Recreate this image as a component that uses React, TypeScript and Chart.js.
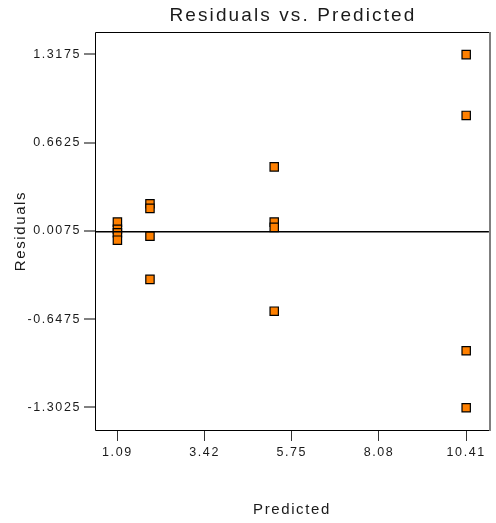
import React, { useEffect, useRef } from "react";
import { Chart, registerables } from "chart.js";

Chart.register(...registerables);

const TITLE = "Residuals vs. Predicted";
const X_TITLE = "Predicted";
const Y_TITLE = "Residuals";

const predicted = [
  1.09, 1.09, 1.09, 1.09,
  1.96, 1.96, 1.96, 1.96,
  5.28, 5.28, 5.28, 5.28,
  10.41, 10.41, 10.41, 10.41,
];
const residuals = [
  0.072, 0.018, -0.007, -0.062,
  0.208, 0.174, -0.032, -0.353,
  0.482, 0.072, 0.033, -0.589,
  1.315, 0.864, -0.883, -1.306,
];

const xTickValues = [1.09, 3.42, 5.75, 8.08, 10.41];
const xTickLabels = ["1.09", "3.42", "5.75", "8.08", "10.41"];
const yTickValues = [-1.3025, -0.6475, 0.0075, 0.6625, 1.3175];
const yTickLabels = ["-1.3025", "-0.6475", "0.0075", "0.6625", "1.3175"];

const X_MIN = 0.491;
const X_MAX = 11.017;
const Y_MIN = -1.471;
const Y_MAX = 1.483;
const ZERO_LINE_X = [X_MIN, X_MAX];
const ZERO_LINE_Y = [0, 0];

const FONT = "Arial, 'Liberation Sans', Helvetica, sans-serif";

const framePlugin = {
  id: "frameAndTitle",
  beforeDraw(chart: any) {
    const ctx = chart.ctx;
    ctx.fillStyle = "#ffffff";
    ctx.fillRect(0, 0, chart.width, chart.height);
    (ctx as any).letterSpacing = "1.6px";
  },
  afterDraw(chart: any) {
    const ctx = chart.ctx;
    const a = chart.chartArea;
    ctx.save();
    ctx.lineWidth = 1;
    ctx.strokeStyle = "#000000";
    ctx.beginPath();
    ctx.moveTo(Math.round(a.right), Math.round(a.top) + 0.5);
    ctx.lineTo(Math.round(a.left) + 0.5, Math.round(a.top) + 0.5);
    ctx.lineTo(Math.round(a.left) + 0.5, Math.round(a.bottom) + 0.5);
    ctx.lineTo(Math.round(a.right), Math.round(a.bottom) + 0.5);
    ctx.stroke();
    ctx.strokeStyle = "#7f7f7f";
    ctx.lineWidth = 2;
    ctx.beginPath();
    ctx.moveTo(Math.round(a.right) + 1, Math.round(a.top));
    ctx.lineTo(Math.round(a.right) + 1, Math.round(a.bottom) + 1);
    ctx.stroke();
    (ctx as any).letterSpacing = "2.1px";
    ctx.fillStyle = "#1a1a1a";
    ctx.font = `19px ${FONT}`;
    ctx.textAlign = "center";
    ctx.textBaseline = "middle";
    ctx.fillText(TITLE, (a.left + a.right) / 2 + 1, 16);
    ctx.restore();
  },
};

export default function App() {
  const ref = useRef<HTMLCanvasElement | null>(null);

  useEffect(() => {
    if (!ref.current) return;
    const points = predicted.map((x, i) => ({ x, y: residuals[i] }));
    const zero = ZERO_LINE_X.map((x, i) => ({ x, y: ZERO_LINE_Y[i] }));
    const chart = new Chart(ref.current, {
      type: "scatter",
      data: {
        datasets: [
          {
            type: "line",
            data: zero,
            borderColor: "#000000",
            borderWidth: 1.5,
            pointRadius: 0,
            fill: false,
          } as any,
          {
            data: points,
            pointStyle: "rect",
            pointRadius: 5.9,
            backgroundColor: "#ff8000",
            borderColor: "#000000",
            borderWidth: 1.2,
          },
        ],
      },
      options: {
        animation: false,
        responsive: true,
        maintainAspectRatio: false,
        layout: { padding: { left: 0, right: 2, top: 32, bottom: 0 } },
        plugins: {
          legend: { display: false },
          tooltip: { enabled: false },
          title: { display: false },
        },
        scales: {
          x: {
            type: "linear",
            min: X_MIN,
            max: X_MAX,
            afterFit: (s: any) => {
              s.height = 93;
            },
            afterBuildTicks: (s: any) => {
              s.ticks = xTickValues.map((v) => ({ value: v }));
            },
            ticks: {
              autoSkip: false,
              maxRotation: 0,
              padding: 4,
              color: "#1a1a1a",
              font: { family: FONT, size: 12.5 },
              callback: (_v: any, i: number) => xTickLabels[i],
            },
            grid: {
              drawOnChartArea: false,
              drawTicks: true,
              tickLength: 11,
              color: "#333333",
              lineWidth: 1,
            },
            border: { display: false },
            title: {
              display: true,
              text: X_TITLE,
              color: "#1a1a1a",
              font: { family: FONT, size: 15 },
              padding: { top: 0, bottom: 4 },
            },
          },
          y: {
            type: "linear",
            min: Y_MIN,
            max: Y_MAX,
            afterFit: (s: any) => {
              s.width = 95;
            },
            afterBuildTicks: (s: any) => {
              s.ticks = yTickValues.map((v) => ({ value: v }));
            },
            ticks: {
              autoSkip: false,
              padding: 3,
              color: "#1a1a1a",
              font: { family: FONT, size: 12.5 },
              callback: (_v: any, i: number) => yTickLabels[i],
            },
            grid: {
              drawOnChartArea: false,
              drawTicks: true,
              tickLength: 11,
              color: "#808080",
              lineWidth: 2,
            },
            border: { display: false },
            title: {
              display: true,
              text: Y_TITLE,
              color: "#1a1a1a",
              font: { family: FONT, size: 15 },
              padding: { top: 12, bottom: 0 },
            },
          },
        },
      },
      plugins: [framePlugin],
    });
    return () => chart.destroy();
  }, []);

  return (
    <div style={{ position: "fixed", left: 0, top: 0, width: 496, height: 523, background: "#fff" }}>
      <canvas ref={ref} style={{ width: "100%", height: "100%" }} />
    </div>
  );
}
